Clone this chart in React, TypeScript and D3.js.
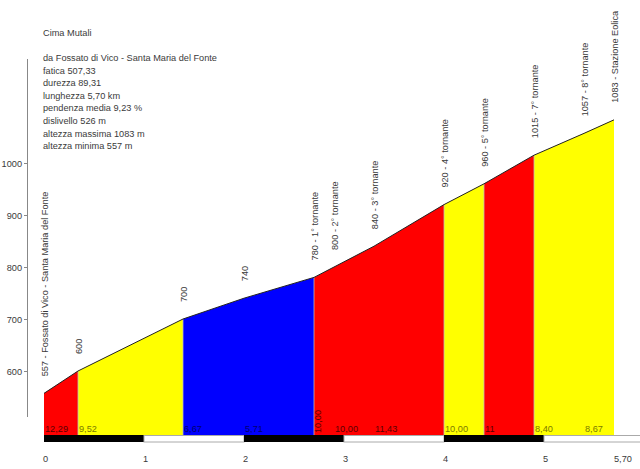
import * as d3 from "d3";

const title = "Cima Mutali";
const infoLines = [
  "da Fossato di Vico - Santa Maria del Fonte",
  "fatica 507,33",
  "durezza 89,31",
  "lunghezza 5,70 km",
  "pendenza media 9,23 %",
  "dislivello 526 m",
  "altezza massima 1083 m",
  "altezza minima 557 m",
];

// profile points
const kms = [0, 0.34, 1.39, 2.0, 2.7, 2.9, 3.3, 4.0, 4.4, 4.9, 5.4, 5.7];
const elevations = [557, 600, 700, 740, 780, 800, 840, 920, 960, 1015, 1057, 1083];
const pointLabels = [
  "557 - Fossato di Vico - Santa Maria del Fonte",
  "600",
  "700",
  "740",
  "780 - 1° tornante",
  "800 - 2° tornante",
  "840 - 3° tornante",
  "920 - 4° tornante",
  "960 - 5° tornante",
  "1015 - 7° tornante",
  "1057 - 8° tornante",
  "1083 - Stazione Eolica",
];

// one entry per segment
const gradients = ["12,29", "9,52", "6,67", "5,71", "10,00", "10,00", "11,43", "10,00", "11", "8,40", "8,67"];
const segColors = ["red", "yellow", "blue", "blue", "red", "red", "red", "yellow", "red", "yellow", "yellow"];

const yTicks = [600, 700, 800, 900, 1000];
const xTicks = [0, 1, 2, 3, 4, 5];
const xEndLabel = "5,70";

const fills: Record<string, string> = { red: "#ff0000", yellow: "#ffff00", blue: "#0000ff" };
const inks: Record<string, string> = { red: "#5a0000", yellow: "#7a7a00", blue: "#000070" };

const W = 640;
const H = 469;
const font = "'Liberation Sans', Arial, sans-serif";
const fs = 9.2;
const textColor = "#3a3a3a";

export default function App() {
  const x = d3.scaleLinear().domain([0, 6]).range([44, 644]);
  const y = d3.scaleLinear().domain([600, 1000]).range([371, 163]);
  const base = 435;

  const pts = kms.map((k, i) => [x(k), y(elevations[i])] as [number, number]);
  const topLine = d3.line()(pts) || "";

  const segs = gradients.map((g, i) => {
    const x0 = x(kms[i]);
    const x1 = x(kms[i + 1]);
    const d = `M${x0},${base}L${x0},${y(elevations[i])}L${x1},${y(elevations[i + 1])}L${x1},${base}Z`;
    return { g, x0, x1, d, color: segColors[i] };
  });

  return (
    <svg width={W} height={H} style={{ position: "absolute", left: 0, top: 0, background: "#fff" }} fontFamily={font} fontSize={fs}>
      <rect width={W} height={H} fill="#fff" />
      <text x={43} y={36} fill={textColor}>{title}</text>
      {infoLines.map((t, i) => (
        <text key={i} x={43} y={61 + i * 12.6} fill={textColor}>{t}</text>
      ))}

      {/* y axis */}
      <line x1={27.5} x2={27.5} y1={y(1200)} y2={417} stroke="#888" />
      {yTicks.map(t => (
        <g key={t}>
          <line x1={24} x2={27} y1={y(t) + 0.5} y2={y(t) + 0.5} stroke="#888" />
          <text x={22} y={y(t) + 3.5} textAnchor="end" fill={textColor}>{t}</text>
        </g>
      ))}

      {/* profile */}
      {segs.map((s, i) => (
        <path key={i} d={s.d} fill={fills[s.color]} />
      ))}
      {segs.slice(1).map((s, i) =>
        s.color !== segs[i].color ? (
          <line key={i} x1={s.x0} x2={s.x0} y1={y(elevations[i + 1])} y2={base} stroke="#bbb" strokeWidth={0.8} />
        ) : null
      )}
      <path d={topLine} fill="none" stroke="#222" strokeWidth={1} />

      {/* gradients */}
      {segs.map((s, i) =>
        s.x1 - s.x0 > 25 ? (
          <text key={i} x={s.x0 + 1} y={432} fill={inks[s.color]}>{s.g}</text>
        ) : (
          <text key={i} transform={`translate(${s.x0 + 7},${433}) rotate(-90)`} fill={inks[s.color]}>{s.g}</text>
        )
      )}

      {/* point labels */}
      {pts.map((p, i) => (
        <text key={i} transform={`translate(${p[0] + 3.5},${p[1] - 17}) rotate(-90)`} fill={textColor}>{pointLabels[i]}</text>
      ))}

      {/* km bar */}
      {d3.range(6).map(k => (
        k % 2 === 0 ? (
          <rect key={k} x={x(k)} y={base} width={x(k + 1) - x(k)} height={7} fill="#000" />
        ) : (
          <rect key={k} x={x(k)} y={base + 0.5} width={x(k + 1) - x(k)} height={6.5} fill="#fff" stroke="#aaa" />
        )
      ))}

      {xTicks.map(t => (
        <text key={t} x={x(t) - 1} y={462} fill={textColor}>{t}</text>
      ))}
      <text x={x(5.7)} y={462} fill={textColor}>{xEndLabel}</text>
    </svg>
  );
}
